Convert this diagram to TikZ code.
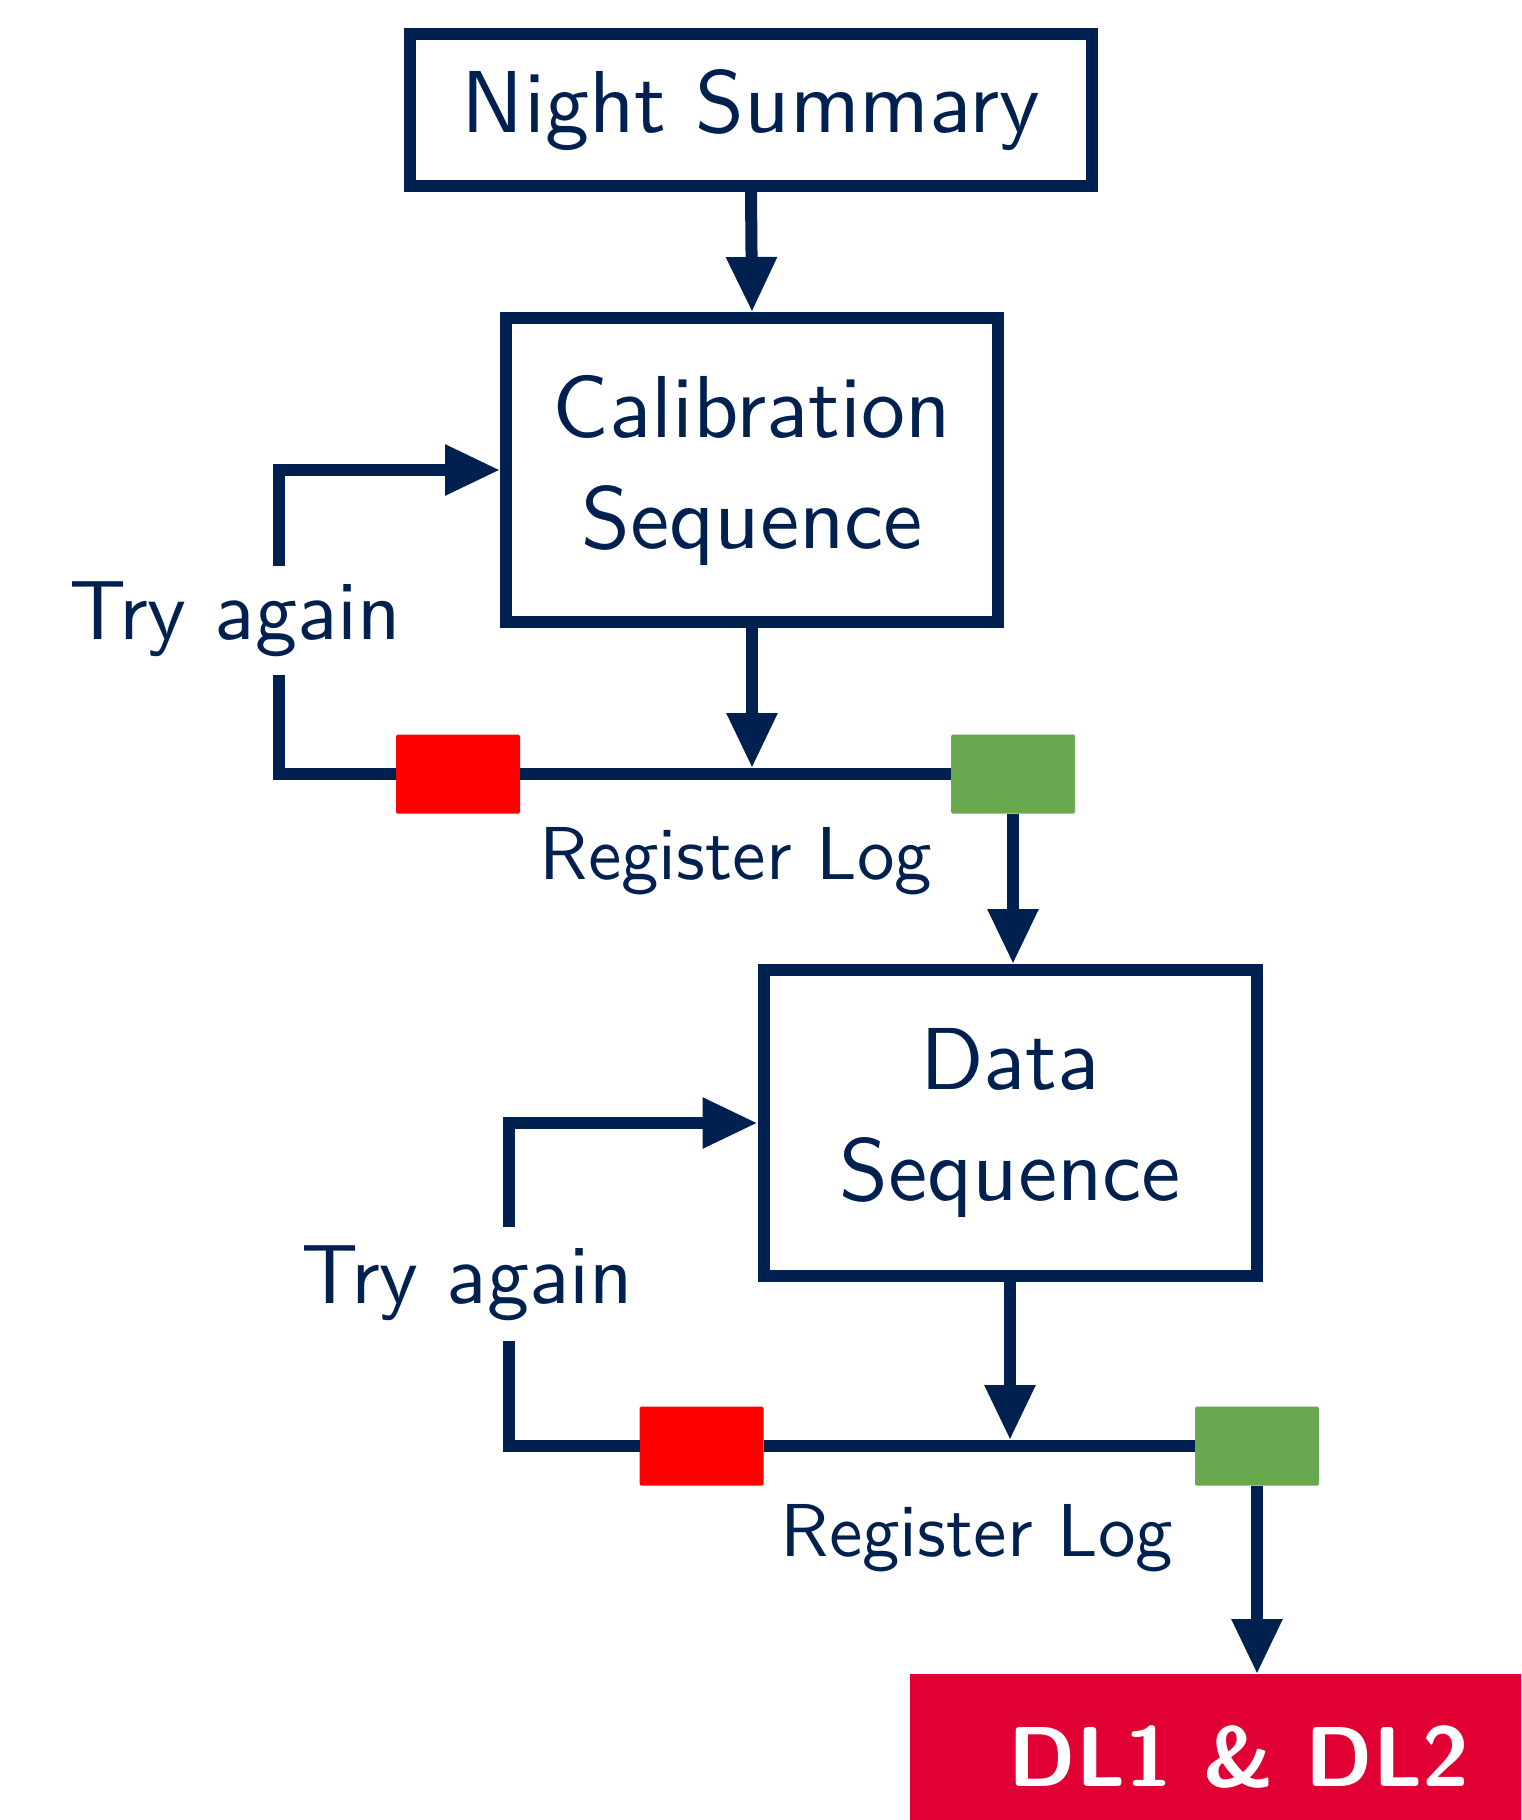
\documentclass[tikz,border=0pt]{standalone}
\usepackage{fontspec}
% sans serif cut of the 10pt design, scaled up for the labels
\newfontfamily\labelsans{lmsans10-regular}[Extension=.otf, BoldFont=lmsans10-bold]
\usetikzlibrary{arrows.meta}
\definecolor{navy}{HTML}{00214F}
\definecolor{failred}{HTML}{FF0000}
\definecolor{okgreen}{HTML}{6AA84F}
\definecolor{dlred}{HTML}{E00034}

\begin{document}
\begin{tikzpicture}[x=1pt,y=-1pt,
  stage/.style={draw=navy, line width=12pt, text=navy, align=center,
    font=\labelsans\fontsize{88}{111}\selectfont, inner sep=0pt},
  flag/.style={minimum width=124pt, minimum height=79pt, inner sep=0pt,
    outer sep=0pt, rounded corners=1.5pt},
  conn/.style={draw=navy, line width=12pt},
  arr/.style={conn, -{Triangle[length=55pt,width=48pt]}},
  trylbl/.style={text=navy, inner sep=0pt, font=\labelsans\fontsize{84}{96}\selectfont},
  loglbl/.style={text=navy, inner sep=0pt, font=\labelsans\fontsize{75}{90}\selectfont}
]
\useasboundingbox (0,0) rectangle (1521,1820);
\clip (0,0) rectangle (1521,1820);

% stages
\node[stage, minimum width=682pt, minimum height=152pt] (night) at (751,110) {Night Summary};
\node[stage, minimum width=492pt, minimum height=304pt] (cal) at (752,470) {Calibration\\Sequence};
\node[stage, minimum width=493pt, minimum height=306pt] (data) at (1010,1123) {Data\\Sequence};

% final product
\node[fill=dlred, text=white, font=\labelsans\fontsize{85}{100}\selectfont\bfseries,
  minimum width=658pt, minimum height=166pt, anchor=north west,
  inner sep=0pt, outer sep=0pt] (dl) at (910,1674) {DL1 \& DL2};

% calibration check
\coordinate (up1) at (279,566);
\coordinate (lo1) at (279,675);
\coordinate (mid1) at (752,774);
\node[flag, fill=failred] (fail1) at (458,774) {};
\node[flag, fill=okgreen] (ok1) at (1013,774) {};
\draw[conn] (lo1) |- (fail1.west);
\draw[conn] (fail1.east) -- (ok1.west);
\draw[arr] (up1) |- (cal.west);
\draw[arr, shorten >=6pt] (cal.south) -- (mid1);
\node[trylbl, anchor=base] (try1) at (235,639) {Try again};
\node[loglbl, anchor=base] (reg1) at (736,879) {Register Log};

% data check
\coordinate (up2) at (509,1227);
\coordinate (lo2) at (509,1341);
\coordinate (mid2) at (1010,1446);
\node[flag, fill=failred] (fail2) at (701.5,1446) {};
\node[flag, fill=okgreen] (ok2) at (1257,1446) {};
\draw[conn] (lo2) |- (fail2.west);
\draw[conn] (fail2.east) -- (ok2.west);
\draw[arr] (up2) |- (data.west);
\draw[arr, shorten >=6pt] (data.south) -- (mid2);
\node[trylbl, anchor=base] (try2) at (467,1303) {Try again};
\node[loglbl, anchor=base] (reg2) at (977,1556) {Register Log};

% flow between stages
\draw[arr] (night.south) -- (cal.north);
\draw[arr] (ok1.south) -- (ok1.south |- data.north);
\draw[arr] (ok2.south) -- (ok2.south |- dl.north);
\end{tikzpicture}
\end{document}
